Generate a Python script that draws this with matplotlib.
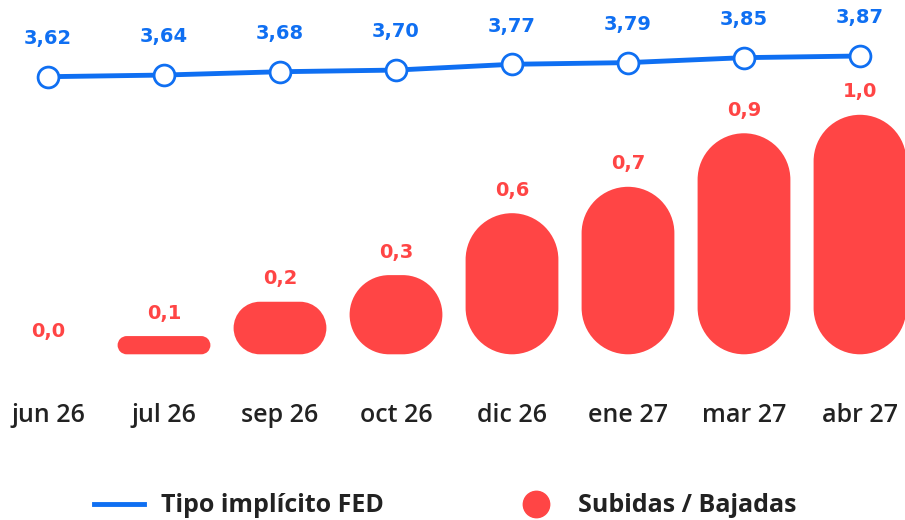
import matplotlib
matplotlib.use('Agg')
import matplotlib.pyplot as plt
from matplotlib.path import Path
from matplotlib.patches import PathPatch
from matplotlib.transforms import Affine2D, blended_transform_factory
from matplotlib.lines import Line2D
from matplotlib.font_manager import FontProperties
import numpy as np

# ---------------- data ----------------
categories = ['jun 26', 'jul 26', 'sep 26', 'oct 26', 'dic 26', 'ene 27', 'mar 27', 'abr 27']
tipo_fed = [3.62, 3.64, 3.68, 3.70, 3.77, 3.79, 3.85, 3.87]
subidas = [0.0, 0.076, 0.219, 0.33, 0.588, 0.698, 0.921, 0.998]
legend_labels = ['Tipo implícito FED', 'Subidas / Bajadas']

# ---------------- style ----------------
BLUE = '#0f6ff2'
RED = '#ff4545'
DARK = '#222222'
VALUE_FONT = ['DejaVu Sans']
LABEL_FONT = ['Open Sans', 'DejaVu Sans']

fig = plt.figure(figsize=(9.05, 5.2), dpi=100)
ax = fig.add_axes([0, 0, 1, 1])
ax2 = ax.twinx()
for a in (ax, ax2):
    a.set_axis_off()

x = np.arange(len(categories))
ax.set_xlim(-0.4138, 7.388)
ax.set_ylim(-0.6904, 1.4763)
ax2.set_ylim(-1.7339, 4.5463)

# pixel ratio to draw round-capped bars with true circular ends
p0 = ax.transData.transform((0, 0))
px = ax.transData.transform((1, 0))[0] - p0[0]
py = ax.transData.transform((0, 1))[1] - p0[1]
k = py / px


def capsule(x0, y0, w, H):
    r = min(w / 2, H / 2)
    verts, codes = [], []
    corners = [((x0 + r, y0 + r), 180, 270), ((x0 + w - r, y0 + r), 270, 360),
               ((x0 + w - r, y0 + H - r), 0, 90), ((x0 + r, y0 + H - r), 90, 180)]
    for i, (c, t1, t2) in enumerate(corners):
        arc = Path.arc(t1, t2)
        v = arc.vertices * r + np.array(c)
        cd = list(arc.codes)
        if i > 0:
            cd[0] = Path.LINETO
        verts.extend(v.tolist())
        codes.extend(cd)
    verts.append(verts[0])
    codes.append(Path.CLOSEPOLY)
    return Path(np.array(verts), codes)


bar_w = 0.80
tr = Affine2D().scale(1, 1 / k) + ax.transData
for xi, v in zip(x, subidas):
    if v > 0:
        path = capsule(xi - bar_w / 2, 0, bar_w, v * k)
        ax.add_patch(PathPatch(path, transform=tr, facecolor=RED, edgecolor='none', zorder=2))
    ax.annotate(f"{v:.1f}".replace('.', ','), (xi, v), xytext=(0, 12.5),
                textcoords='offset points', ha='center', va='baseline',
                color=RED, fontsize=14, fontweight='bold', family=VALUE_FONT)

# line
ax2.plot(x, tipo_fed, color=BLUE, lw=3.5, marker='o', ms=15, mfc='white',
         mec=BLUE, mew=2, zorder=3)
for xi, v in zip(x, tipo_fed):
    ax2.annotate(f"{v:.2f}".replace('.', ','), (xi, v), xytext=(0, 23.5),
                 textcoords='offset points', ha='center', va='baseline',
                 color=BLUE, fontsize=14, fontweight='bold', family=VALUE_FONT)

# category labels
btr = blended_transform_factory(ax.transData, ax.transAxes)
for xi, c in zip(x, categories):
    ax.text(xi, 98.3 / 520, c, transform=btr, ha='center', va='baseline',
            fontsize=18, fontweight='semibold', color=DARK, family=LABEL_FONT)

# legend
handles = [Line2D([], [], color=BLUE, lw=3.5),
           Line2D([], [], color=RED, marker='o', ls='', ms=19)]
leg = fig.legend(handles, legend_labels, loc='center', bbox_to_anchor=(445 / 905, 14 / 520),
                 ncol=2, frameon=False,
                 prop=FontProperties(family=LABEL_FONT, weight='bold', size=18),
                 handlelength=2.0, handletextpad=0.68, columnspacing=5.1)
for t in leg.get_texts():
    t.set_color(DARK)

fig.savefig('out.png', dpi=100)
